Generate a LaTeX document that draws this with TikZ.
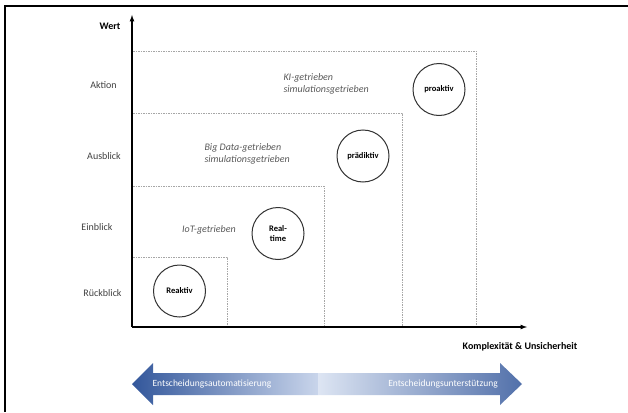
\documentclass[tikz,border=0pt]{standalone}
\usepackage{fontspec}
\setmainfont{Carlito}
\usetikzlibrary{arrows}
\definecolor{labelgray}{HTML}{595959}
\definecolor{textgray}{HTML}{404040}
\definecolor{boxgray}{HTML}{A6A6A6}
\definecolor{arrowdark}{HTML}{33579B}
\definecolor{arrowmid}{HTML}{C9D5EB}
\definecolor{arrowlight}{HTML}{DDE5F3}

\begin{document}
\begin{tikzpicture}[x=1pt,y=-1pt,
  level/.style={font=\fontsize{10}{12}\selectfont, text=textgray},
  driver/.style={font=\fontsize{10}{12}\selectfont\itshape, text=labelgray, align=left},
  stage/.style={circle, draw=black!80, line width=1pt, minimum size=52pt, inner sep=0pt,
    font=\fontsize{8.5}{9.5}\selectfont\bfseries, align=center},
  area/.style={draw=boxgray, dash pattern=on 1.5pt off 1pt, line width=0.7pt},
  axis/.style={-latex, line width=1.2pt},
  bigtext/.style={font=\fontsize{9.5}{11}\selectfont, text=white}]
  \useasboundingbox (0,0) rectangle (628,412);
  \draw[line width=2pt] (5,412) -- (5,6.5) -- (628,6.5);

  \coordinate (o) at (132,327);
  \coordinate (ytop) at (132,15);
  \coordinate (xend) at (527,327);

  \draw[area] (133,257) -| (227,327);
  \draw[area] (133,186) -| (324,327);
  \draw[area] (133,113) -| (402,327);
  \draw[area] (133,51) -| (476,327);

  \draw[axis] (o) -- (ytop);
  \draw[axis] (o) -- (xend);

  \node[font=\fontsize{10}{12}\selectfont\bfseries] (wert) at (110,26) {Wert};
  \node[font=\fontsize{10}{12}\selectfont\bfseries] (komplex) at (520,347) {Komplexität \& Unsicherheit};

  \node[level] (aktion) at (103.5,85) {Aktion};
  \node[level] (ausblick) at (104,156) {Ausblick};
  \node[level] (einblick) at (97,227) {Einblick};
  \node[level] (rueckblick) at (102.5,293) {Rückblick};

  \node[driver, anchor=west] (ki) at (280,84) {KI-getrieben\\simulationsgetrieben};
  \node[driver, anchor=west] (bigdata) at (201,154) {Big Data-getrieben\\simulationsgetrieben};
  \node[driver] (iot) at (209,230) {IoT-getrieben};

  \node[stage] (reaktiv) at (179.5,291) {Reaktiv};
  \node[stage] (realtime) at (278,233.5) {Real-\\time};
  \node[stage] (praediktiv) at (363,156) {prädiktiv};
  \node[stage] (proaktiv) at (439,89.5) {proaktiv};

  \shade[left color=arrowdark, right color=arrowmid]
    (132,384) -- (153,363) -- (153,373) -- (318,373) -- (318,395) -- (153,395) -- (153,405) -- cycle;
  \shade[left color=arrowlight, right color=arrowdark!85!white]
    (318,373) -- (500,373) -- (500,363) -- (522,384) -- (500,405) -- (500,395) -- (318,395) -- cycle;
  \node[bigtext] (automat) at (212,384) {Entscheidungsautomatisierung};
  \node[bigtext] (unterst) at (443,384) {Entscheidungsunterstützung};
\end{tikzpicture}
\end{document}
